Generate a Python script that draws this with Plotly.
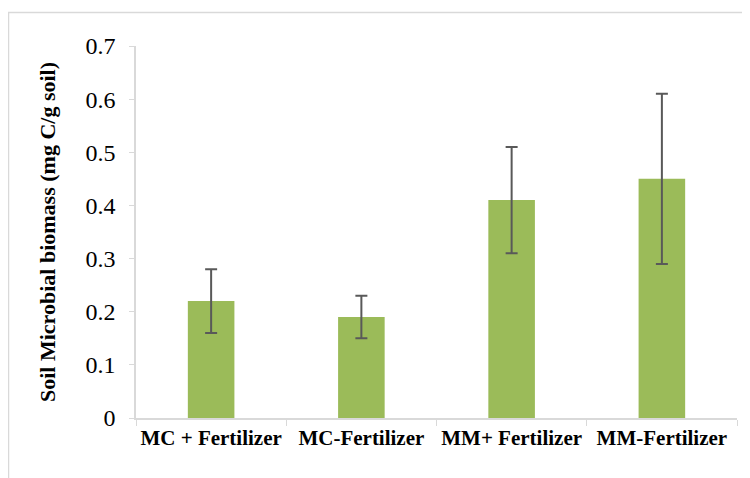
import plotly.graph_objects as go

categories = ["MC + Fertilizer", "MC-Fertilizer", "MM+ Fertilizer", "MM-Fertilizer"]
values = [0.22, 0.19, 0.41, 0.45]
errors = [0.06, 0.04, 0.10, 0.16]
y_ticks = [0, 0.1, 0.2, 0.3, 0.4, 0.5, 0.6, 0.7]
y_tick_labels = ["0", "0.1", "0.2", "0.3", "0.4", "0.5", "0.6", "0.7"]

W, H = 750, 478
L, R, T, B = 128, 21, 38, 68
pw, ph = W - L - R, H - T - B

fig = go.Figure(go.Bar(
    x=categories, y=values,
    marker=dict(color="#9BBB59", line=dict(width=0)),
    error_y=dict(type="data", array=errors, visible=True,
                 color="#595959", thickness=2, width=6),
))

def px_x(p):
    return (p - L) / pw

def px_y(p):
    return (H - B - p) / ph

fig.add_shape(type="rect", xref="paper", yref="paper",
              x0=px_x(0.5), x1=px_x(760), y0=px_y(490), y1=px_y(4.5),
              line=dict(color="#d9d9d9", width=1.5), fillcolor="rgba(0,0,0,0)",
              layer="below")

fig.update_layout(
    width=W, height=H,
    margin=dict(l=L, r=R, t=T, b=B, autoexpand=False),
    paper_bgcolor="white", plot_bgcolor="white",
    bargap=0.69,
    showlegend=False,
    font=dict(family="Liberation Serif", color="black"),
    xaxis=dict(
        type="category",
        automargin=False,
        tickangle=0,
        tickvals=categories,
        ticktext=["<b>" + c + "</b>" for c in categories],
        showline=True, linecolor="#d9d9d9", linewidth=1.5,
        ticks="outside", tickson="boundaries", ticklen=6, tickcolor="#d9d9d9",
        tickfont=dict(family="Liberation Serif", size=21, color="black"),
        showgrid=False, zeroline=False,
    ),
    yaxis=dict(
        automargin=False,
        range=[0, 0.7],
        tickvals=y_ticks, ticktext=y_tick_labels,
        showline=True, linecolor="#d9d9d9", linewidth=1.5,
        ticks="outside", ticklen=5, tickcolor="#d9d9d9",
        ticklabelstandoff=9,
        tickfont=dict(family="Liberation Serif", size=24, color="black"),
        showgrid=False, zeroline=False,
        title=dict(text="<b>Soil Microbial biomass (mg C/g soil)</b>",
                   font=dict(family="Liberation Serif", size=22, color="black"),
                   standoff=24),
    ),
)

fig.write_html("out.html")
